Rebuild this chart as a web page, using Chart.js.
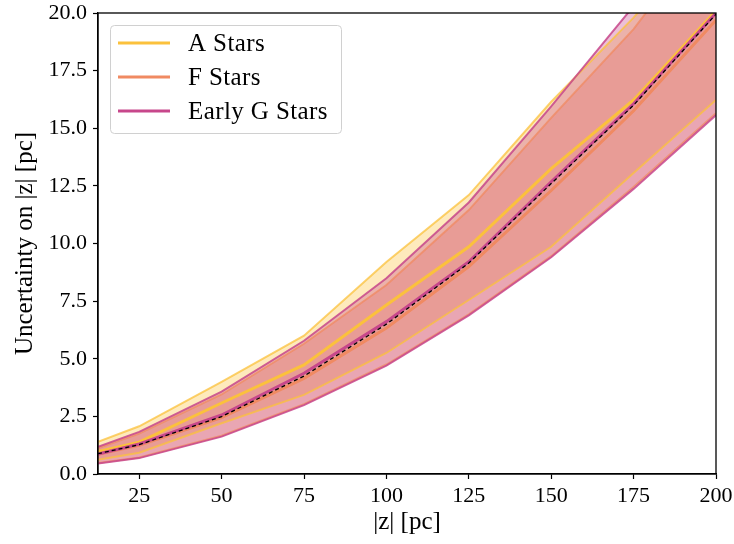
<!DOCTYPE html>
<html><head><meta charset="utf-8">
<script src="https://cdn.jsdelivr.net/npm/chart.js@4/dist/chart.umd.min.js"></script>
<style>html,body{margin:0;padding:0;background:#fff;}#wrap{width:734px;height:544px;position:relative;}</style>
</head><body><div id="wrap"><canvas id="c" width="734" height="544"></canvas></div>
<script>
// ---- data ----
const zPc = [12.5, 25, 50, 75, 100, 125, 150, 175, 200];
const xTickValues = [25, 50, 75, 100, 125, 150, 175, 200];
const yTickValues = [0, 2.5, 5, 7.5, 10, 12.5, 15, 17.5, 20];
const seriesLabels = ['A Stars', 'F Stars', 'Early G Stars'];

const aMedian = [0.97, 1.38, 3.08, 4.73, 7.33, 9.86, 13.25, 16.23, 20.1];
const aUpper  = [1.40, 2.07, 4.00, 6.00, 9.20, 12.10, 16.15, 19.8, 24.0];
const aLower  = [0.62, 0.92, 2.20, 3.43, 5.25, 7.55, 9.86, 13.06, 16.23];

const fMedian = [0.85, 1.25, 2.45, 4.15, 6.33, 9.00, 12.30, 15.76, 19.7];
const fUpper  = [1.12, 1.75, 3.45, 5.65, 8.20, 11.45, 15.45, 19.3, 24.0];
const fLower  = [0.48, 0.72, 1.66, 3.03, 4.75, 6.93, 9.45, 12.45, 15.65];

const gMedian = [0.87, 1.30, 2.56, 4.37, 6.61, 9.21, 12.68, 16.06, 20.0];
const gUpper  = [1.18, 1.83, 3.57, 5.78, 8.49, 11.78, 15.95, 20.3, 25.0];
const gLower  = [0.46, 0.69, 1.62, 2.99, 4.70, 6.88, 9.40, 12.37, 15.57];

const refLine = [0.88, 1.27, 2.49, 4.25, 6.50, 9.15, 12.60, 16.00, 19.95];

// ---- styles ----
const colA = '#fbc13c', colF = '#f08a62', colG = '#c7478b';
const rgba = (hex, a) => {
  const n = parseInt(hex.slice(1), 16);
  return `rgba(${(n>>16)&255},${(n>>8)&255},${n&255},${a})`;
};
const pts = arr => arr.map((v, i) => ({x: zPc[i], y: v}));
const FONT = '"Liberation Serif", "Times New Roman", serif';

const datasets = [];
function addBand(up, lo, col, ord) {
  datasets.push({data: pts(up), borderWidth: 0, pointRadius: 0, fill: '+1', backgroundColor: rgba(col, 0.34), order: ord, tension: 0});
  datasets.push({data: pts(lo), borderWidth: 0, pointRadius: 0, fill: false, order: ord, tension: 0});
}
addBand(aUpper, aLower, colA, 60);
addBand(fUpper, fLower, colF, 59);
addBand(gUpper, gLower, colG, 58);
function addEdges(up, lo, col, ord, a) {
  [up, lo].forEach(arr => datasets.push({data: pts(arr), borderColor: rgba(col, a), borderWidth: 2, pointRadius: 0, fill: false, order: ord}));
}
addEdges(aUpper, aLower, colA, 40, 0.75);
addEdges(fUpper, fLower, colF, 39, 0.75);
addEdges(gUpper, gLower, colG, 38, 0.85);
[[aMedian, colA], [fMedian, colF], [gMedian, colG]].forEach(([arr, col], i) => {
  datasets.push({label: seriesLabels[i], data: pts(arr), borderColor: col, borderWidth: 3, pointRadius: 0, fill: false, order: 20 - i});
});
datasets.push({data: pts(refLine), borderColor: '#000', borderWidth: 1.3, borderDash: [4, 3], pointRadius: 0, fill: false, order: 1});

const framePlugin = {
  id: 'frame',
  afterDatasetsDraw(chart) {
    const {ctx, chartArea: a} = chart;
    ctx.save();
    ctx.strokeStyle = '#000'; ctx.lineWidth = 1.3;
    ctx.strokeRect(a.left, a.top, a.right - a.left, a.bottom - a.top);
    ctx.restore();
  }
};
const legendPlugin = {
  id: 'boxLegend',
  afterDraw(chart) {
    const ctx = chart.ctx;
    const x0 = 110, y0 = 25, w = 231, h = 108, r = 4;
    ctx.save();
    ctx.beginPath();
    ctx.roundRect(x0 + 0.5, y0 + 0.5, w, h, r);
    ctx.fillStyle = 'rgba(255,255,255,0.8)';
    ctx.fill();
    ctx.strokeStyle = '#d0d0d0'; ctx.lineWidth = 1;
    ctx.stroke();
    const cols = [colA, colF, colG];
    ctx.font = '25px ' + FONT;
    try { ctx.letterSpacing = '0.4px'; } catch (e) {}
    ctx.textBaseline = 'middle';
    ctx.fillStyle = '#000';
    seriesLabels.forEach((lab, i) => {
      const y = 43 + i * 34;
      ctx.beginPath(); ctx.moveTo(118, y); ctx.lineTo(170, y);
      ctx.strokeStyle = cols[i]; ctx.lineWidth = 3; ctx.stroke();
      ctx.fillText(lab, 188, y + 1);
    });
    ctx.restore();
  }
};

new Chart(document.getElementById('c'), {
  type: 'line',
  data: {datasets},
  plugins: [framePlugin, legendPlugin],
  options: {
    responsive: false, animation: false, devicePixelRatio: 1,
    layout: {padding: {left: 0, right: 18, top: 13, bottom: 0}},
    plugins: {legend: {display: false}, tooltip: {enabled: false}},
    scales: {
      x: {
        type: 'linear', min: 12.5, max: 200,
        afterBuildTicks: s => { s.ticks = xTickValues.map(v => ({value: v})); },
        afterFit: s => { s.height = 70; s.paddingLeft = 0; s.paddingRight = 0; },
        grid: {drawOnChartArea: false, drawTicks: true, tickLength: 5, tickWidth: 1.2, tickColor: '#000'},
        border: {display: true, color: '#000', width: 1.3},
        ticks: {color: '#000', padding: 4, maxRotation: 0, autoSkip: false, font: {family: FONT, size: 22}},
        title: {display: true, text: '|z| [pc]', color: '#000', padding: {top: 0, bottom: 7}, font: {family: FONT, size: 25}}
      },
      y: {
        type: 'linear', min: 0, max: 20,
        afterBuildTicks: s => { s.ticks = yTickValues.map(v => ({value: v})); },
        afterFit: s => { s.width = 98; s.paddingTop = 0; s.paddingBottom = 0; },
        grid: {drawOnChartArea: false, drawTicks: true, tickLength: 5, tickWidth: 1.2, tickColor: '#000'},
        border: {display: true, color: '#000', width: 1.3},
        ticks: {color: '#000', padding: 6, autoSkip: false, font: {family: FONT, size: 22}, callback: v => Number(v).toFixed(1)},
        title: {display: true, text: 'Uncertainty on |z| [pc]', color: '#000', padding: {top: 10, bottom: 0}, font: {family: FONT, size: 25}}
      }
    }
  }
});
</script></body></html>
